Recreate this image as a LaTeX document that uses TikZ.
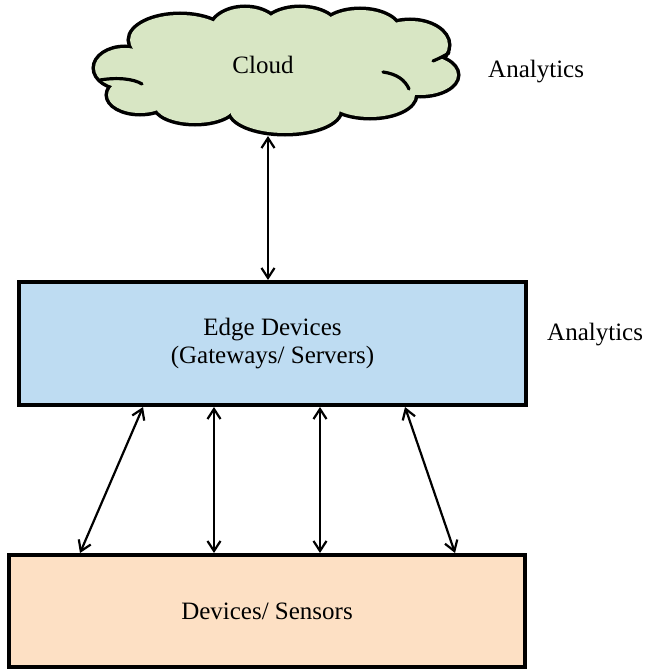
\documentclass[tikz,border=0pt]{standalone}
\usepackage{fontspec}
\setmainfont{Liberation Serif}
\usetikzlibrary{arrows.meta,calc}
\definecolor{cloudfill}{RGB}{216,230,196}
\definecolor{edgefill}{RGB}{190,220,242}
\definecolor{devfill}{RGB}{253,224,196}
\tikzset{
  box/.style={draw=black, line width=4pt, inner sep=0pt, align=center,
    font=\fontsize{25}{28}\selectfont},
  lbl/.style={inner sep=0pt, font=\fontsize{25}{28}\selectfont},
  arr/.style={line width=2.2pt,
    {Straight Barb[length=10pt,width=13pt,line width=2.2pt]}-{Straight Barb[length=10pt,width=13pt,line width=2.2pt]}},
  cloudline/.style={line width=7pt},
  inner/.style={line width=3.2pt, line cap=round}
}
\begin{document}
\begin{tikzpicture}[x=1pt,y=-1pt]
\useasboundingbox (0,0) rectangle (647,671);

% cloud shape: union of ellipses
\def\cloudlist{125/68/30/20, 140/95/32/18, 195/105/40/18, 285/110/55/23,
  370/95/45/22, 420/75/37/20, 410/45/38/24, 360/32/40/22, 300/30/38/22,
  245/32/35/24, 180/40/50/25}
\foreach \cx/\cy/\rx/\ry in \cloudlist
  \draw[cloudline] (\cx,\cy) ellipse [x radius=\rx pt, y radius=\ry pt];
\foreach \cx/\cy/\rx/\ry in \cloudlist
  \fill[cloudfill] (\cx,\cy) ellipse [x radius=\rx pt, y radius=\ry pt];
\fill[cloudfill] (275,70) ellipse [x radius=150pt, y radius=40pt];
\draw[inner] (100,80) .. controls (118,77) and (134,79) .. (142,84);
\draw[inner] (383,72) .. controls (397,74) and (405,80) .. (409,89);
\draw[inner] (433,61) .. controls (440,58) .. (449,53);

\node[lbl, anchor=base] (cloud) at (263,74) {Cloud};
\node[lbl, anchor=base west] (an1) at (488,78) {Analytics};

\node[box, fill=edgefill, minimum width=507pt, minimum height=123pt] (edge)
  at (272.5,343.5) {Edge Devices\\(Gateways/ Servers)};
\node[lbl, anchor=base west] (an2) at (547,340) {Analytics};

\node[box, fill=devfill, minimum width=516pt, minimum height=112pt] (dev)
  at (267,611) {Devices/ Sensors};

\coordinate (cb) at (268,136);
\draw[arr] (cb) -- (cb |- edge.north);

\draw[arr] ([xshift=126pt]edge.south west) -- ([xshift=73pt]dev.north west);
\draw[arr] ([xshift=197pt]edge.south west) -- ([xshift=207pt]dev.north west);
\draw[arr] ([xshift=303pt]edge.south west) -- ([xshift=313pt]dev.north west);
\draw[arr] ([xshift=388pt]edge.south west) -- ([xshift=448pt]dev.north west);
\end{tikzpicture}
\end{document}
